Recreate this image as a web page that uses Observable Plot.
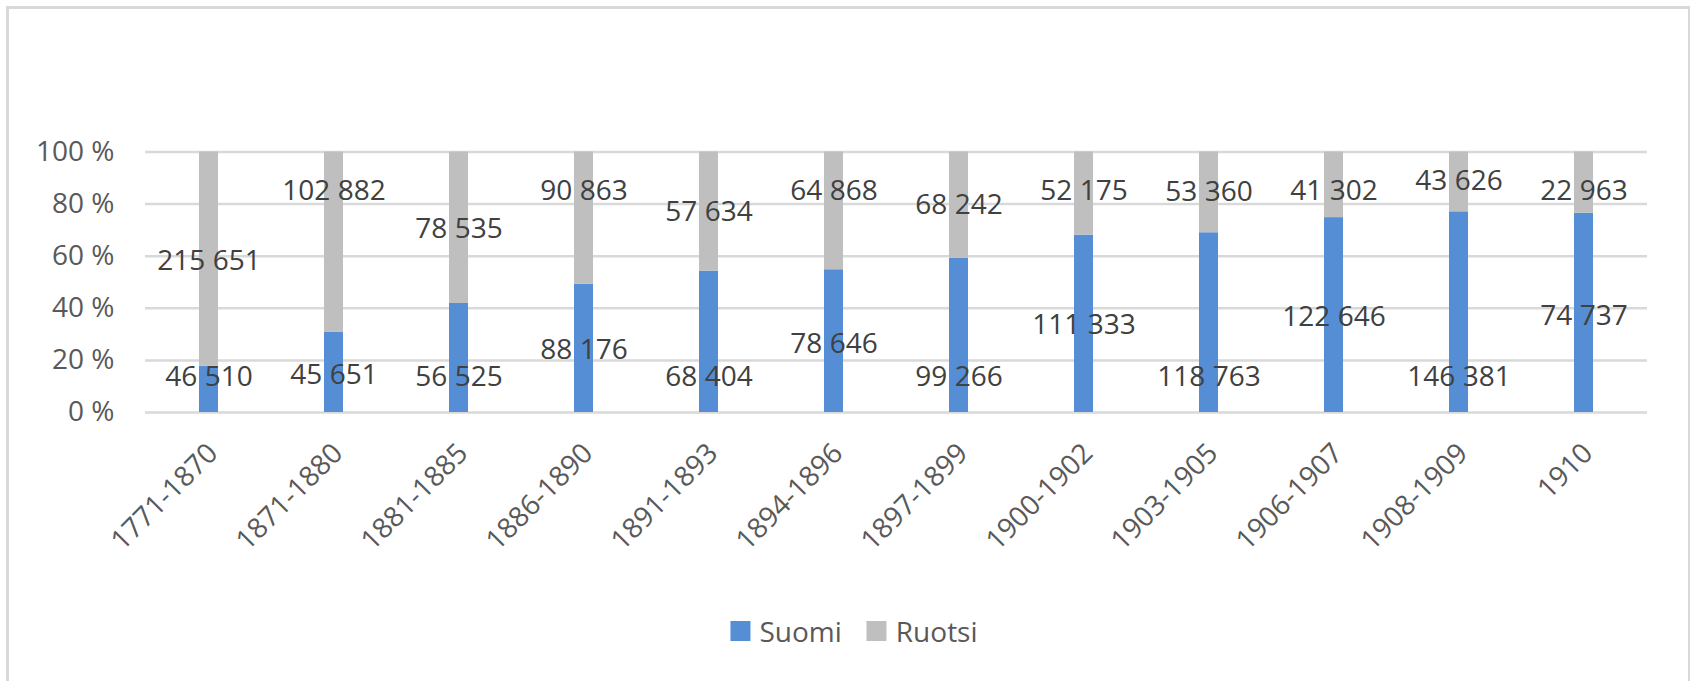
<!DOCTYPE html>
<html>
<head>
<meta charset="utf-8">
<script src="https://cdn.jsdelivr.net/npm/d3@7"></script>
<script src="https://cdn.jsdelivr.net/npm/@observablehq/plot@0.6"></script>
<style>
  html, body { margin: 0; padding: 0; background: #fff; }
  #wrap { position: relative; width: 1690px; height: 681px; overflow: hidden; font-family: "Open Sans", sans-serif; }
  #frame { position: absolute; left: 6px; top: 6px; width: 1679px; height: 720px; border: 3px solid #d9d9d9; border-bottom: none; }
  #chart { position: absolute; left: 0; top: 0; }
  #legend { position: absolute; top: 612px; left: 854px; transform: translateX(-50%); display: flex; align-items: center; font-size: 28px; color: #595959; white-space: nowrap; }
  .item { display: flex; align-items: center; }
  .sw { width: 20px; height: 20px; margin-right: 9px; }
</style>
</head>
<body>
<div id="wrap">
  <div id="frame"></div>
  <div id="chart"></div>
  <div id="legend"></div>
</div>
<script>
// Data
const periods = ["1771-1870","1871-1880","1881-1885","1886-1890","1891-1893","1894-1896","1897-1899","1900-1902","1903-1905","1906-1907","1908-1909","1910"];
const suomi  = [46510, 45651, 56525, 88176, 68404, 78646, 99266, 111333, 118763, 122646, 146381, 74737];
const ruotsi = [215651, 102882, 78535, 90863, 57634, 64868, 68242, 52175, 53360, 41302, 43626, 22963];
// data-label anchors (percent of the bar)
const suomiLabelPct  = [13.6, 14.2, 13.6, 23.8, 13.6, 26.4, 13.6, 33.4, 13.6, 36.6, 13.6, 37.2];
const ruotsiLabelPct = [58.3, 85.2, 70.5, 85.2, 76.9, 85.2, 79.5, 85.2, 84.6, 85.2, 88.8, 85.2];
const series = ["Suomi", "Ruotsi"];
const colors = ["#558ed5", "#bfbfbf"];
const yTicks = [0, 0.2, 0.4, 0.6, 0.8, 1];

const rows = [];
periods.forEach((p, i) => {
  rows.push({period: p, country: "Suomi", value: suomi[i]});
  rows.push({period: p, country: "Ruotsi", value: ruotsi[i]});
});
const labels = [];
periods.forEach((p, i) => {
  labels.push({period: p, value: suomi[i], pos: suomiLabelPct[i] / 100});
  labels.push({period: p, value: ruotsi[i], pos: ruotsiLabelPct[i] / 100});
});

const fmt = d3.formatLocale({decimal: ",", thousands: " ", grouping: [3], currency: ["", " €"]}).format(",d");

const W = 1690, H = 600;
const chart = Plot.plot({
  width: W,
  height: H,
  marginLeft: 145,
  marginRight: 43,
  marginTop: 151.5,
  marginBottom: 188,
  style: {fontFamily: "Open Sans, sans-serif", fontSize: "28px", background: "transparent", overflow: "visible"},
  x: {domain: periods, paddingInner: 0.848, paddingOuter: 0.424, axis: null},
  y: {domain: [0, 1], ticks: yTicks, tickFormat: d => Math.round(d * 100) + " %", tickSize: 0, tickPadding: 31, label: null},
  color: {domain: series, range: colors},
  marks: [
    Plot.gridY(yTicks, {stroke: "#d9d9d9", strokeOpacity: 1, strokeWidth: 2.5}),
    Plot.barY(rows, Plot.stackY({offset: "normalize", order: series, x: "period", y: "value", fill: "country"})),
    Plot.text(labels, {x: "period", y: "pos", text: d => fmt(d.value), fill: "#404040", fontSize: 28}),
    Plot.text(periods, {x: d => d, frameAnchor: "bottom", dy: 36, dx: 4, rotate: -45, textAnchor: "end", lineAnchor: "middle", fill: "#595959", fontSize: 28}),
    Plot.axisY({ticks: yTicks, tickFormat: d => Math.round(d * 100) + " %", tickSize: 0, tickPadding: 31, fill: "#595959", fontSize: 28, label: null})
  ]
});
document.getElementById("chart").appendChild(chart);

const legend = document.getElementById("legend");
series.forEach((s, i) => {
  const item = document.createElement("div");
  item.className = "item";
  if (i > 0) item.style.marginLeft = "25px";
  const sw = document.createElement("div");
  sw.className = "sw";
  sw.style.background = colors[i];
  const t = document.createElement("span");
  t.textContent = s;
  item.appendChild(sw);
  item.appendChild(t);
  legend.appendChild(item);
});
</script>
</body>
</html>
